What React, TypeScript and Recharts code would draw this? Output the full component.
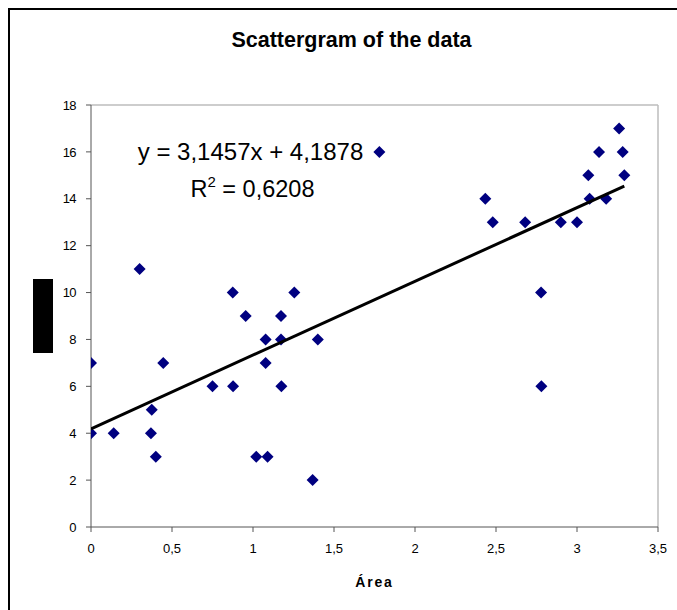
import React from 'react';
import {
  ScatterChart, Scatter, XAxis, YAxis, ReferenceLine, Customized, Label,
} from 'recharts';

// area (x) vs value (y)
const areaValues = [
  0, 0, 0.14, 0.3, 0.37, 0.375, 0.4, 0.446, 0.75, 0.875, 0.877, 0.955,
  1.02, 1.078, 1.078, 1.09, 1.173, 1.173, 1.175, 1.255, 1.368, 1.4, 1.78,
  2.434, 2.48, 2.68, 2.778, 2.78, 2.9, 3.0, 3.07, 3.078, 3.136, 3.18, 3.26,
  3.282, 3.292,
];
const yValues = [
  7, 4, 4, 11, 4, 5, 3, 7, 6, 10, 6, 9,
  3, 8, 7, 3, 9, 8, 6, 10, 2, 8, 16,
  14, 13, 13, 10, 6, 13, 13, 15, 14, 16, 14, 17,
  16, 15,
];

const slope = 3.1457;
const intercept = 4.1878;
const rSquared = 0.6208;

const xTicks = [0, 0.5, 1, 1.5, 2, 2.5, 3, 3.5];
const yTicks = [0, 2, 4, 6, 8, 10, 12, 14, 16, 18];

const points = areaValues.map((x, i) => ({ x, y: yValues[i] }));
const xMax = Math.max(...areaValues);
const trend = [
  { x: 0, y: intercept },
  { x: xMax, y: slope * xMax + intercept },
];

const FONT = "'Liberation Sans', Arial, sans-serif";
const fmt = (v: number) => String(v).replace('.', ',');
const fmt4 = (v: number) => v.toFixed(4).replace('.', ',');

const Diamond = (props: any) => {
  const { cx, cy } = props;
  if (cx == null || cy == null) return null;
  const r = 6;
  return (
    <polygon
      points={`${cx},${cy - r} ${cx + r},${cy} ${cx},${cy + r} ${cx - r},${cy}`}
      fill="#000080"
    />
  );
};

const Annotations = () => (
  <g fontFamily={FONT}>
    <text x={351.5} y={47} textAnchor="middle" fontSize={21.5} fontWeight="bold" fill="#000">
      Scattergram of the data
    </text>
    <text x={250.5} y={160} textAnchor="middle" fontSize={24} fill="#000">
      {`y = ${fmt4(slope)}x + ${fmt4(intercept)}`}
    </text>
    <text x={252.5} y={197} textAnchor="middle" fontSize={23.5} fill="#000">
      R<tspan dy={-10} fontSize={15}>2</tspan>
      <tspan dy={10}>{` = ${fmt4(rSquared)}`}</tspan>
    </text>
    <rect x={33} y={279} width={20} height={74} fill="#000" />
  </g>
);

export default function App() {
  return (
    <div style={{ position: 'absolute', left: 0, top: 0, width: 677, height: 610, overflow: 'hidden', background: '#fff' }}>
      <div style={{ position: 'absolute', left: 8, top: 8, width: 800, height: 800, border: '2px solid #000' }} />
      <div style={{ position: 'absolute', left: 0, top: 0 }}>
        <ScatterChart width={677} height={610} margin={{ top: 105, right: 19, bottom: 0, left: 0 }}>
          <XAxis
            type="number"
            dataKey="x"
            domain={[0, 3.5]}
            ticks={xTicks}
            tickFormatter={fmt}
            height={83}
            tickSize={5}
            tickMargin={12}
            stroke="#555"
            tick={{ fill: '#000', fontSize: 13, fontFamily: FONT }}
            allowDataOverflow
          >
            <Label
              value="Área"
              position="insideBottom"
              offset={23}
              style={{ fontSize: 14, fontWeight: 'bold', fill: '#000', letterSpacing: 1.8, fontFamily: FONT }}
            />
          </XAxis>
          <YAxis
            type="number"
            dataKey="y"
            domain={[0, 18]}
            ticks={yTicks}
            width={91}
            tickSize={5}
            tickMargin={10}
            stroke="#555"
            tick={{ fill: '#000', fontSize: 13, fontFamily: FONT, letterSpacing: -0.6 }}
            allowDataOverflow
          />
          <ReferenceLine y={18} stroke="#bdbdbd" strokeWidth={1.5} />
          <ReferenceLine x={3.5} stroke="#bdbdbd" strokeWidth={1.5} />
          <Scatter data={points} shape={<Diamond />} isAnimationActive={false} />
          <Scatter
            data={trend}
            line={{ stroke: '#000', strokeWidth: 3 }}
            shape={() => null}
            isAnimationActive={false}
          />
          <Customized component={Annotations} />
        </ScatterChart>
      </div>
    </div>
  );
}
